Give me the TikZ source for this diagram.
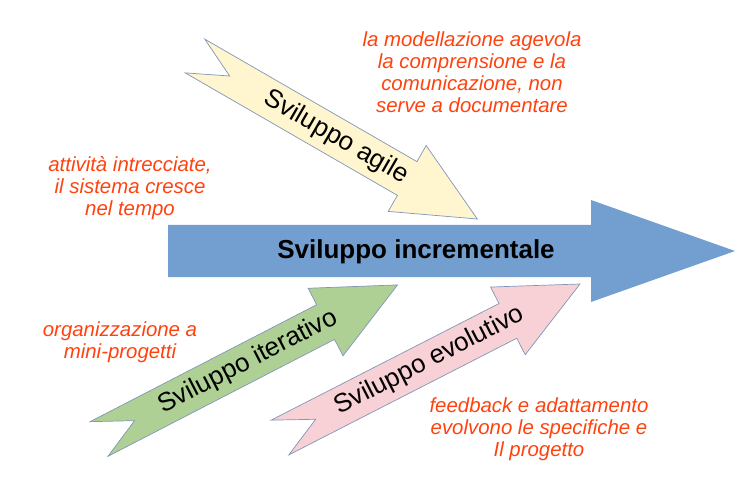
\documentclass[tikz,border=0pt]{standalone}
\usepackage{fontspec}
\setmainfont{Liberation Sans}
\definecolor{mainblue}{HTML}{729FCF}
\definecolor{agileyellow}{HTML}{FFF5CE}
\definecolor{itergreen}{HTML}{AFD095}
\definecolor{evopink}{HTML}{F7D1D5}
\definecolor{notered}{HTML}{FF420E}
\definecolor{edgeblue}{HTML}{8096B8}
\tikzset{
  smallarrow/.style={draw=edgeblue, line width=0.7pt, line join=miter},
  arrowlabel/.style={font=\fontsize{26}{31}\selectfont, inner sep=0pt},
  note/.style={font=\fontsize{20.4}{22}\selectfont\itshape, text=notered, align=center, inner sep=0pt},
}
% notched arrow: length #1, drawn along local x from the tail centre
\newcommand{\notchedarrow}[2]{%
  \fill[#2] (0,-19.5) -- (40,0) -- (0,19.5) -- (#1-81,19.5) -- (#1-81,38) -- (#1,0)
    -- (#1-81,-38) -- (#1-81,-19.5) -- cycle;
  \draw[smallarrow] (0,-19.5) -- (40,0) -- (0,19.5) -- (#1-81,19.5) -- (#1-81,38) -- (#1,0)
    -- (#1-81,-38) -- (#1-81,-19.5) -- cycle;
}
\begin{document}
\begin{tikzpicture}[x=1pt,y=-1pt]
\useasboundingbox (0,0) rectangle (755,489);

% main arrow
\fill[mainblue] (168,225) -- (591,225) -- (591,200) -- (735,251) -- (591,302) -- (591,277) -- (168,277) -- cycle;
\node[font=\fontsize{26}{31}\selectfont\bfseries, inner sep=0pt] (incr) at (416,252) {Sviluppo incrementale};

% agile arrow
\begin{scope}[shift={(195,56)}, rotate=-30]
  \notchedarrow{326}{agileyellow}
  \node[arrowlabel, rotate=-30] (agile) at (163,0) {Sviluppo agile};
\end{scope}

% iterative arrow
\begin{scope}[shift={(99,439)}, rotate=27.3]
  \notchedarrow{336}{itergreen}
  \node[arrowlabel, rotate=27.3] (iter) at (168,0) {Sviluppo iterativo};
\end{scope}

% evolutive arrow
\begin{scope}[shift={(280,437.5)}, rotate=27.1]
  \notchedarrow{337}{evopink}
  \node[arrowlabel, rotate=27.1] (evo) at (168,0) {Sviluppo evolutivo};
\end{scope}

% notes
\node[note] (noteagile) at (472,72) {la modellazione agevola\\la comprensione e la\\comunicazione, non\\serve a documentare};
\node[note] (noteincr) at (130,188) {attività intrecciate,\\il sistema cresce\\nel tempo};
\node[note] (noteiter) at (120,342) {organizzazione a\\mini-progetti};
\node[note] (noteevo) at (539,429) {feedback e adattamento\\evolvono le specifiche e\\Il progetto};
\end{tikzpicture}
\end{document}
